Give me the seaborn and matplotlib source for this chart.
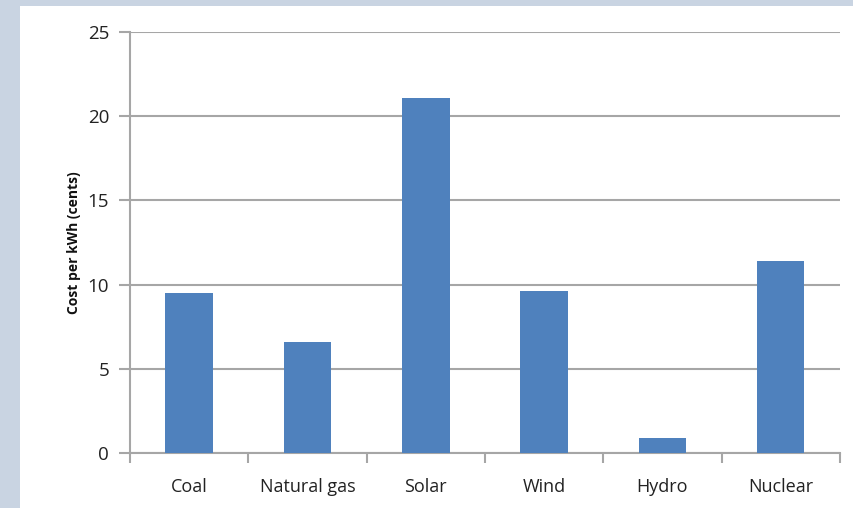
import numpy as np
import pandas as pd
import seaborn as sns
import matplotlib.pyplot as plt
from matplotlib.patches import Rectangle
from matplotlib.ticker import FixedLocator

plt.switch_backend('agg')

sources = ['Coal', 'Natural gas', 'Solar', 'Wind', 'Hydro', 'Nuclear']
cost_cents = [9.5, 6.6, 21.1, 9.6, 0.9, 11.4]

sns.set_style('white')
plt.rcParams['font.family'] = ['Open Sans', 'DejaVu Sans']

grid_col = '#a6a6a6'
bar_col = '#4f81bd'

fig = plt.figure(figsize=(8.54, 5.08), dpi=100)
fig.patch.set_facecolor('#c9d4e2')
# white panel, like the pasted chart area
fig.add_artist(Rectangle((20 / 854, 0), 1, 1 - 6 / 508, transform=fig.transFigure,
                         facecolor='white', edgecolor='none', zorder=0))

ax = fig.add_axes([130 / 854, 55 / 508, 710 / 854, 421 / 508])
ax.patch.set_alpha(0)

df = pd.DataFrame({'source': sources, 'cost': cost_cents})
sns.barplot(data=df, x='source', y='cost', color=bar_col, saturation=1,
            width=0.4, ax=ax, zorder=3, linewidth=0)

ax.set_ylim(0, 25)
ax.set_xlim(-0.5, len(sources) - 0.5)
ax.set_yticks(range(0, 26, 5))
ax.yaxis.grid(True, color=grid_col, linewidth=1.5)
ax.set_axisbelow(True)

for s in ['top', 'right']:
    ax.spines[s].set_visible(False)
for s in ['left', 'bottom']:
    ax.spines[s].set_color(grid_col)
    ax.spines[s].set_linewidth(1.5)

ax.tick_params(axis='y', length=8, width=1.5, color=grid_col, labelsize=13.5,
               labelcolor='#222222', pad=7, left=True)
ax.tick_params(axis='x', which='major', length=0, labelsize=13,
               labelcolor='#222222', pad=18)
ax.xaxis.set_minor_locator(FixedLocator(np.arange(-0.5, len(sources), 1.0)))
ax.tick_params(axis='x', which='minor', length=7, width=1.5, color=grid_col,
               bottom=True, direction='out')

ax.set_xlabel('')
ax.set_ylabel('Cost per kWh (cents)', fontsize=10, fontweight='bold',
              color='#111111', labelpad=5)

fig.savefig('out.png', dpi=100, facecolor=fig.get_facecolor())
